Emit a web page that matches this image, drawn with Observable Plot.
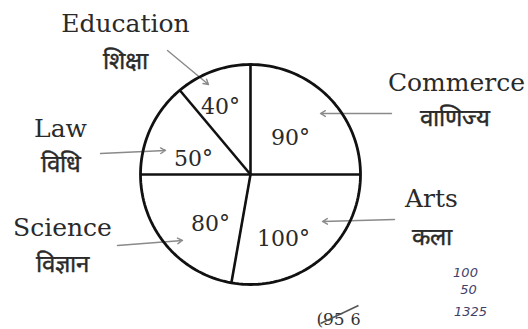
<!DOCTYPE html>
<html>
<head>
<meta charset="utf-8">
<script src="https://cdn.jsdelivr.net/npm/d3@7"></script>
<script src="https://cdn.jsdelivr.net/npm/@observablehq/plot@0.6"></script>
<style>
  html, body { margin: 0; padding: 0; background: #fff; }
  #chart svg { display: block; }
</style>
</head>
<body>
<div id="chart"></div>
<script>
// ---- data ----
const categories = ["Commerce", "Arts", "Science", "Law", "Education"];
const hindiNames = ["वाणिज्य", "कला", "विज्ञान", "विधि", "शिक्षा"];
const degrees = [90, 100, 80, 50, 40];
const notes = ["100", "50", "1325"];

// ---- layout (offsets from pie centre, in px, y up) ----
const R = 110;
const labelLayout = [[206, 92, 204, 56], [181, -24, 181, -63], [-188, -53, -188, -90], [-190, 46, -190, 10], [-125, 151, -125, 113]];
const arrowLayout = [[141, 61, 70, 61], [144, -45, 72, -47], [-133, -71, -68, -66], [-150, 21, -85, 24], [-83, 124, -42, 90]];
const degLayout = [[40, 37], [33, -64], [-40, -49], [-57, 16], [-30, 68]];
const noteLayout = [[215, -98], [218, -115], [220, -137]];

// ---- derived tables ----
const rad = (a) => a * Math.PI / 180;
let acc = 0;
const slices = categories.map((c, i) => {
  const start = acc; acc += degrees[i];
  return {category: c, hindi: hindiNames[i], deg: degrees[i], start, end: acc,
    lx1: labelLayout[i][0], ly1: labelLayout[i][1], lx2: labelLayout[i][2], ly2: labelLayout[i][3],
    ax1: arrowLayout[i][0], ay1: arrowLayout[i][1], ax2: arrowLayout[i][2], ay2: arrowLayout[i][3],
    dx: degLayout[i][0], dy: degLayout[i][1]};
});
const circle = d3.range(0, 361, 2).map(a => ({x: R * Math.sin(rad(a)), y: R * Math.cos(rad(a))}));
const noteRows = notes.map((t, i) => ({t, x: noteLayout[i][0], y: noteLayout[i][1]}));

const serif = "'DejaVu Serif', 'Liberation Serif', serif";

const chart = Plot.plot({
  width: 528,
  height: 329,
  margin: 0,
  x: {domain: [-250, 278], axis: null},
  y: {domain: [-155, 174], axis: null},
  style: {background: "#fff"},
  marks: [
    // leader arrows
    Plot.arrow(slices, {x1: "ax1", y1: "ay1", x2: "ax2", y2: "ay2", stroke: "#8a8a8a", strokeWidth: 1.4, headLength: 6}),
    // slice boundaries
    Plot.link(slices, {x1: 0, y1: 0, x2: d => R * Math.sin(rad(d.start)), y2: d => R * Math.cos(rad(d.start)), stroke: "#111", strokeWidth: 2.6}),
    // outline
    Plot.line(circle, {x: "x", y: "y", stroke: "#111", strokeWidth: 2.8}),
    // degree labels
    Plot.text(slices, {x: "dx", y: "dy", text: d => d.deg + "°", fontFamily: serif, fontSize: 22, fill: "#2a2a2a"}),
    // category labels
    Plot.text(slices, {x: "lx1", y: "ly1", text: "category", fontFamily: serif, fontSize: 25, fill: "#2a2a2a"}),
    Plot.text(slices, {x: "lx2", y: "ly2", text: "hindi", fontFamily: serif, fontSize: 24, fill: "#2a2a2a", stroke: "#2a2a2a", strokeWidth: 0.4}),
    // handwritten notes
    Plot.text(noteRows, {x: "x", y: "y", text: "t", fontFamily: "'DejaVu Sans', sans-serif", fontSize: 13, fill: "#3f3f6a", fontStyle: "italic"}),
    Plot.text(["(95"], {x: 80, y: -145, text: d => d, fontFamily: serif, fontSize: 17, fill: "#333"}),
    Plot.text(["6"], {x: 105, y: -145, text: d => d, fontFamily: serif, fontSize: 16, fill: "#333"}),
    Plot.link([0], {x1: 70, y1: -149, x2: 108, y2: -131, stroke: "#555", strokeWidth: 1.5})
  ]
});
document.getElementById("chart").append(chart);
</script>
</body>
</html>
